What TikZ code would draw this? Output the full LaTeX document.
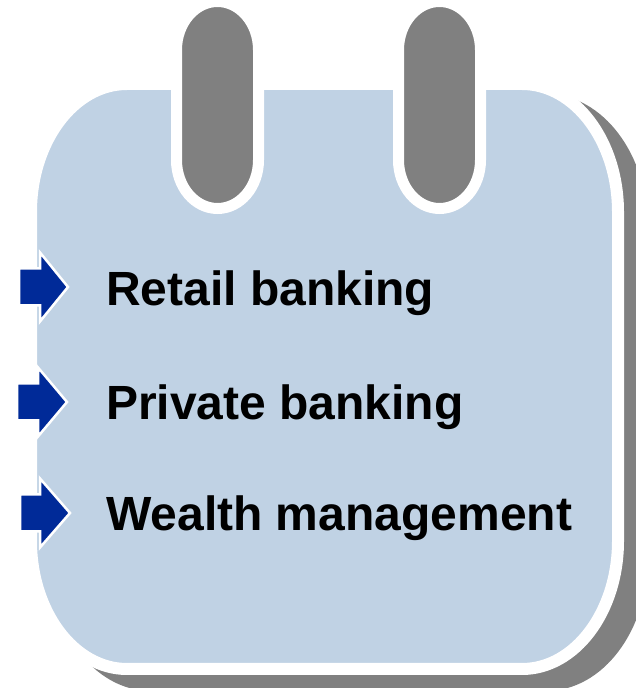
\documentclass[tikz,border=0pt]{standalone}
\usepackage{fontspec}
\setmainfont{Liberation Sans}
\usepackage{tikz}
\definecolor{cardblue}{RGB}{192,210,228}
\definecolor{ringgray}{RGB}{128,128,128}
\definecolor{arrowblue}{RGB}{0,42,152}

\begin{document}
\begin{tikzpicture}[x=1pt, y=1pt,
    cardshadow/.style={fill=ringgray, draw=ringgray, line width=12pt},
    card/.style={fill=cardblue, draw=white, line width=12pt},
    ring/.style={fill=ringgray, draw=white, line width=11pt},
    pointer/.style={fill=arrowblue, draw=white, line width=2.5pt, line join=miter},
    item/.style={anchor=base west, inner sep=0pt, font=\bfseries\fontsize{48}{57}\selectfont}]
    \useasboundingbox (0, 0) rectangle (636, 688);

    % Calendar sheet with its shadow
    \filldraw[cardshadow, shift={(24, -16)}] (127, 604)
        -- (522, 604) arc[start angle=90, end angle=0, x radius=96, y radius=128]
        -- (618, 147) arc[start angle=0, end angle=-90, x radius=96, y radius=128]
        -- (127, 19) arc[start angle=-90, end angle=-180, x radius=96, y radius=128]
        -- (31, 476) arc[start angle=180, end angle=90, x radius=96, y radius=128]
        -- cycle;
    \filldraw[card] (127, 604)
        -- (522, 604) arc[start angle=90, end angle=0, x radius=96, y radius=128]
        -- (618, 147) arc[start angle=0, end angle=-90, x radius=96, y radius=128]
        -- (127, 19) arc[start angle=-90, end angle=-180, x radius=96, y radius=128]
        -- (31, 476) arc[start angle=180, end angle=90, x radius=96, y radius=128]
        -- cycle;

    % Binder rings
    \filldraw[ring] (176.5, 638)
        -- ++(0, -110) arc[start angle=180, end angle=360, x radius=41, y radius=48.5]
        -- ++(0, 110) arc[start angle=0, end angle=180, x radius=41, y radius=48.5]
        -- cycle;
    \filldraw[ring] (398.5, 638)
        -- ++(0, -110) arc[start angle=180, end angle=360, x radius=41, y radius=48.5]
        -- ++(0, 110) arc[start angle=0, end angle=180, x radius=41, y radius=48.5]
        -- cycle;

    % Bullet arrows
    \coordinate (p1) at (19, 401);
    \coordinate (p2) at (17, 286);
    \coordinate (p3) at (20, 175);
    \draw[pointer] (p1) ++(0, 18.5) -- ++(21, 0) -- ++(0, 16) -- ++(28, -34.5)
        -- ++(-28, -34.5) -- ++(0, 16) -- ++(-21, 0) -- cycle;
    \draw[pointer] (p2) ++(0, 18.5) -- ++(21, 0) -- ++(0, 16) -- ++(29, -34.5)
        -- ++(-29, -34.5) -- ++(0, 16) -- ++(-21, 0) -- cycle;
    \draw[pointer] (p3) ++(0, 18.5) -- ++(20, 0) -- ++(0, 16) -- ++(30, -34.5)
        -- ++(-30, -34.5) -- ++(0, 16) -- ++(-20, 0) -- cycle;

    % Labels
    \node[item] (retail) at (106, 382) {Retail banking};
    \node[item] (private) at (106, 268) {Private banking};
    \node[item] (wealth) at (106, 157) {Wealth management};
\end{tikzpicture}
\end{document}
